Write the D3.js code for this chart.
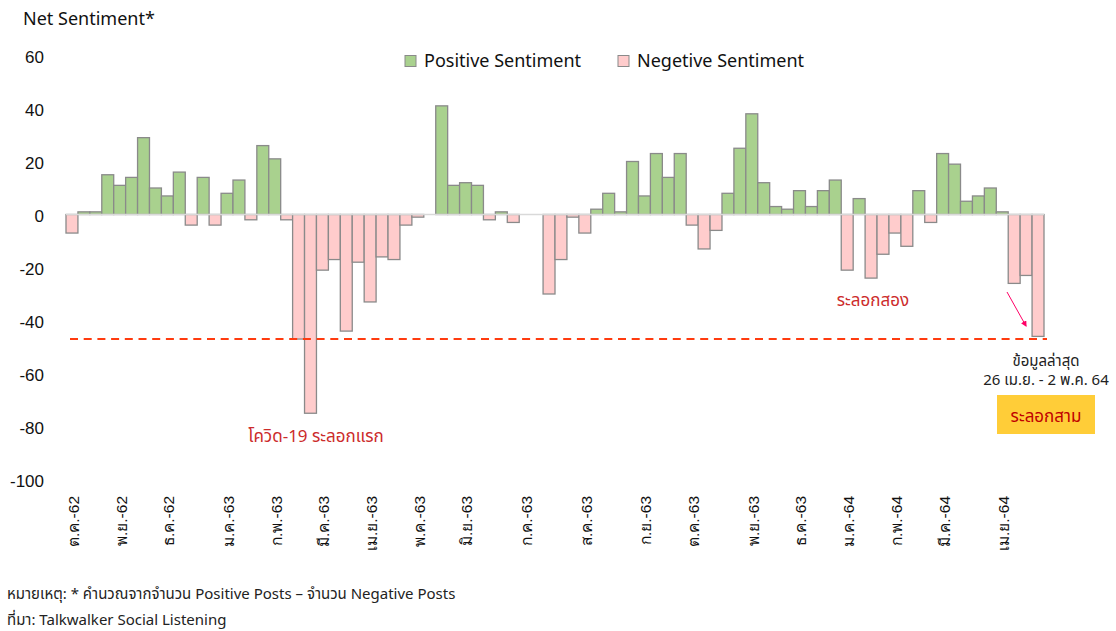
<!DOCTYPE html>
<html>
<head>
<meta charset="utf-8">
<script src="https://cdn.jsdelivr.net/npm/d3@7"></script>
<style>
  body { margin: 0; background: #fff; }
  svg { display: block; font-family: "Noto Sans", "Noto Sans Thai", "Open Sans", sans-serif; }
</style>
</head>
<body>
<div id="chart"></div>
<script>
// weekly net sentiment, 7 Oct 62 .. 26 Apr 64
var netSentiment = [
  -7, 1, 1, 15, 11, 14, 29, 10, 7, 16,
  -4, 14, -4, 8, 13, -2, 26, 21, -2, -47,
  -75, -21, -17, -44, -18, -33, -16, -17, -4, -1,
  0, 41, 11, 12, 11, -2, 1, -3, 0, 0,
  -30, -17, -1, -7, 2, 8, 1, 20, 7, 23,
  14, 23, -4, -13, -6, 8, 25, 38, 12, 3,
  2, 9, 3, 9, 13, -21, 6, -24, -15, -7,
  -12, 9, -3, 23, 19, 5, 7, 10, 1, -26,
  -23, -46
];
var monthTickIndex = [0, 4, 8, 13, 17, 21, 25, 29, 33, 38, 43, 48, 52, 57, 61, 65, 69, 73, 78];
var monthTickLabels = [
  "ต.ค.-62", "พ.ย.-62", "ธ.ค.-62", "ม.ค.-63", "ก.พ.-63", "มี.ค.-63", "เม.ย.-63", "พ.ค.-63",
  "มิ.ย.-63", "ก.ค.-63", "ส.ค.-63", "ก.ย.-63", "ต.ค.-63", "พ.ย.-63", "ธ.ค.-63", "ม.ค.-64",
  "ก.พ.-64", "มี.ค.-64", "เม.ย.-64"
];
var yTicks = [60, 40, 20, 0, -20, -40, -60, -80, -100];
var wave1Level = -47; // dashed reference line
var seriesNames = ["Positive Sentiment", "Negetive Sentiment"];

(function(d3) {
  var W = 1116, H = 631;
  var posColor = "#a9d18e", negColor = "#ffcccc", edge = "#8a8a8a", red = "#cc2b2b";

  var svg = d3.select("#chart").append("svg")
      .attr("width", W)
      .attr("height", H);

  var x = d3.scaleBand()
      .domain(d3.range(netSentiment.length))
      .range([66, 1044])
      .padding(0);

  var y = d3.scaleLinear()
      .domain([-100, 60])
      .range([479.5, 55.5]);

  // y axis: labels only (plain hyphen for negatives)
  var yAxis = svg.append("g")
      .attr("transform", "translate(44,1.5)")
      .call(d3.axisLeft(y).tickValues(yTicks).tickSize(0).tickPadding(0)
        .tickFormat(function(d) { return String(d); }));
  yAxis.select(".domain").remove();
  yAxis.selectAll("text")
      .attr("font-size", 17)
      .attr("font-family", "inherit")
      .attr("fill", "#111");

  svg.append("text")
      .attr("x", 23).attr("y", 25)
      .attr("font-size", 18)
      .attr("fill", "#111")
      .text("Net Sentiment*");

  // bars (weeks with 0 get no bar)
  var weeks = netSentiment.map(function(v, i) { return { i: i, v: v }; })
      .filter(function(d) { return d.v !== 0; });

  svg.append("g").selectAll("rect")
      .data(weeks)
    .enter().append("rect")
      .attr("x", function(d) { return x(d.i); })
      .attr("width", x.bandwidth())
      .attr("y", function(d) { return y(Math.max(0, d.v)); })
      .attr("height", function(d) { return Math.abs(y(d.v) - y(0)); })
      .attr("fill", function(d) { return d.v > 0 ? posColor : negColor; })
      .attr("stroke", edge)
      .attr("stroke-width", 1.3);

  // zero line
  svg.append("line")
      .attr("x1", x.range()[0]).attr("x2", x.range()[1])
      .attr("y1", y(0)).attr("y2", y(0))
      .attr("stroke", "#d9d9d9")
      .attr("stroke-width", 1.5);

  // dashed line for the first wave trough
  svg.append("line")
      .attr("x1", 70).attr("x2", 1047)
      .attr("y1", y(wave1Level)).attr("y2", y(wave1Level))
      .attr("stroke", "#ff3b0f")
      .attr("stroke-width", 2)
      .attr("stroke-dasharray", "8,5.7");

  // x axis month labels, rotated
  var xAxis = svg.append("g")
      .attr("transform", "translate(1.5,496)")
      .call(d3.axisBottom(x).tickValues(monthTickIndex)
        .tickFormat(function(d) { return monthTickLabels[monthTickIndex.indexOf(d)]; })
        .tickSize(0).tickPadding(0));
  xAxis.select(".domain").remove();
  xAxis.selectAll("text")
      .attr("font-size", 15.5)
      .attr("font-family", "inherit")
      .attr("fill", "#111")
      .attr("text-anchor", "end")
      .attr("dy", "0.35em")
      .attr("y", 0)
      .attr("x", 0)
      .attr("transform", "rotate(-90)");

  // legend
  var legend = svg.append("g").attr("transform", "translate(405,61)");
  var items = [{ name: seriesNames[0], color: posColor, x: 0 }, { name: seriesNames[1], color: negColor, x: 213 }];
  items.forEach(function(it) {
    legend.append("rect")
      .attr("x", it.x).attr("y", -5.5)
      .attr("width", 11).attr("height", 11)
      .attr("fill", it.color)
      .attr("stroke", edge)
      .attr("stroke-width", 1);
    legend.append("text")
      .attr("x", it.x + 19).attr("y", 0)
      .attr("dy", "0.35em")
      .attr("font-size", 18)
      .attr("fill", "#111")
      .text(it.name);
  });

  // annotations
  svg.append("text")
      .attr("x", 316).attr("y", 436).attr("dy", "0.35em")
      .attr("text-anchor", "middle")
      .attr("font-size", 17).attr("fill", red)
      .text("โควิด-19 ระลอกแรก");

  svg.append("text")
      .attr("x", 873).attr("y", 300).attr("dy", "0.35em")
      .attr("text-anchor", "middle")
      .attr("font-size", 17).attr("fill", red)
      .text("ระลอกสอง");

  svg.append("defs").append("marker")
      .attr("id", "arrow")
      .attr("viewBox", "0 0 10 10")
      .attr("refX", 8).attr("refY", 5)
      .attr("markerWidth", 6).attr("markerHeight", 6)
      .attr("orient", "auto")
    .append("path")
      .attr("d", "M0,0L10,5L0,10z")
      .attr("fill", "#ff0066");

  svg.append("line")
      .attr("x1", 1007).attr("y1", 292)
      .attr("x2", 1026).attr("y2", 326)
      .attr("stroke", "#ff0066")
      .attr("stroke-width", 1)
      .attr("marker-end", "url(#arrow)");

  svg.append("text")
      .attr("x", 1046).attr("y", 361).attr("dy", "0.35em")
      .attr("text-anchor", "middle")
      .attr("font-size", 15).attr("fill", "#222")
      .text("ข้อมูลล่าสุด");
  svg.append("text")
      .attr("x", 1046).attr("y", 380).attr("dy", "0.35em")
      .attr("text-anchor", "middle")
      .attr("font-size", 15).attr("fill", "#222")
      .text("26 เม.ย. - 2 พ.ค. 64");

  svg.append("rect")
      .attr("x", 997).attr("y", 395)
      .attr("width", 98).attr("height", 39)
      .attr("fill", "#ffcd38");
  svg.append("text")
      .attr("x", 1046).attr("y", 416).attr("dy", "0.35em")
      .attr("text-anchor", "middle")
      .attr("font-size", 17).attr("fill", "#c00000")
      .text("ระลอกสาม");

  // footnotes
  svg.append("text")
      .attr("x", 7).attr("y", 599)
      .attr("font-size", 15).attr("fill", "#222")
      .text("หมายเหตุ: * คำนวณจากจำนวน Positive Posts – จำนวน Negative Posts");
  svg.append("text")
      .attr("x", 7).attr("y", 625)
      .attr("font-size", 15).attr("fill", "#222")
      .text("ที่มา: Talkwalker Social Listening");
})(d3);
</script>
</body>
</html>
